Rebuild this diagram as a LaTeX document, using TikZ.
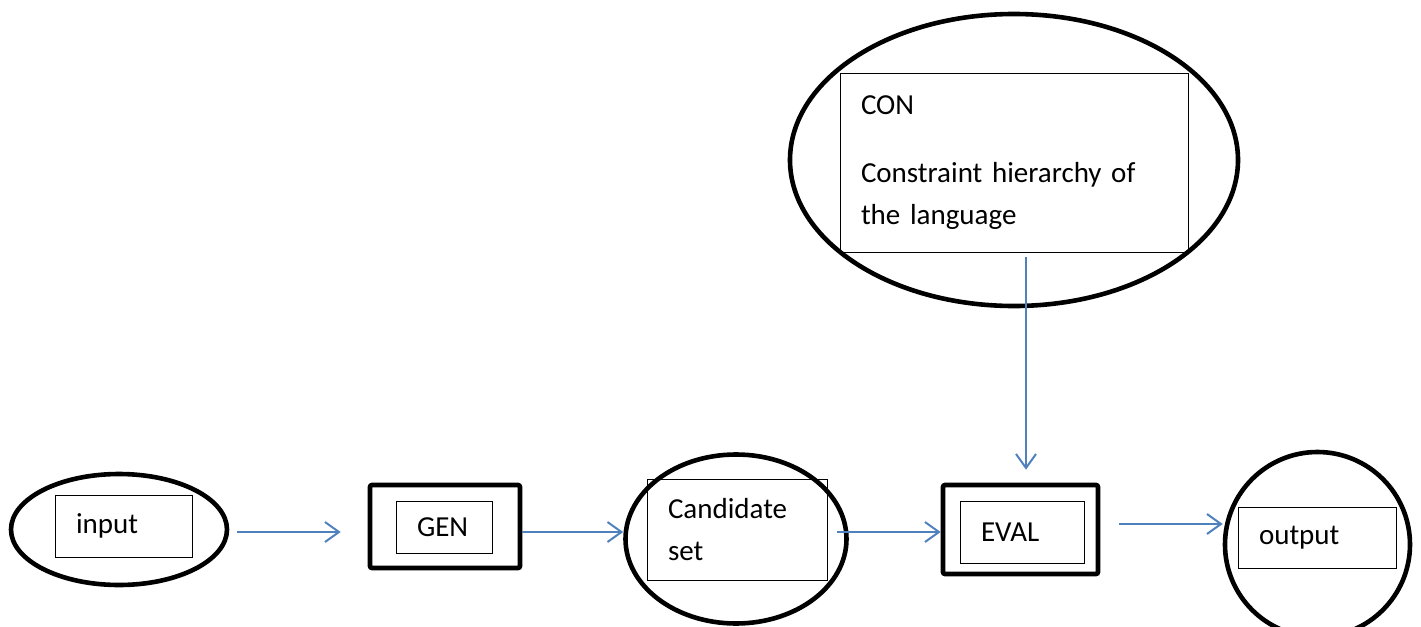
\documentclass[tikz,border=0pt]{standalone}
\usepackage{fontspec}
\setmainfont{Carlito}
\usetikzlibrary{arrows.meta,shapes.geometric}
\definecolor{flowblue}{RGB}{79,129,189}

\begin{document}
\begin{tikzpicture}[x=0.5pt, y=-0.5pt,
    outline/.style={draw, line width=2.3pt},
    inbox/.style={draw, line width=0.5pt, inner sep=0pt, inner xsep=10.5pt, align=left, font=\fontsize{14.5}{21}\selectfont},
    flow/.style={draw=flowblue, line width=1pt, -{Straight Barb[length=7pt, width=10pt]}}]
    \useasboundingbox (0,0) rectangle (1421,627);
    % Input
    \node[outline, ellipse, minimum width=108pt, minimum height=55.5pt] (inEll) at (119,529.5) {};
    \node[inbox, text width=47.5pt, minimum height=31pt] (inBox) at (123.5,526) {input};
    % GEN
    \node[outline, rounded corners=1pt, minimum width=75pt, minimum height=41.5pt] (gen) at (445,526.5) {};
    \node[inbox, text width=27pt, minimum height=26pt] (genBox) at (444,527) {GEN};
    % Candidate set
    \node[outline, ellipse, minimum width=110.5pt, minimum height=84.5pt] (cand) at (736,539) {};
    \node[inbox, text width=69pt, minimum height=50.5pt] (candBox) at (737,529.5) {Candidate\\set};
    % EVAL
    \node[outline, rounded corners=1pt, minimum width=77.5pt, minimum height=44.5pt] (eval) at (1020.5,529.5) {};
    \node[inbox, text width=41pt, minimum height=31pt] (evalBox) at (1022,532) {EVAL};
    % Output
    \node[outline, ellipse, minimum width=92.5pt, minimum height=92.5pt] (out) at (1317.5,544.5) {};
    \node[inbox, text width=58pt, minimum height=30.5pt] (outBox) at (1317,537.5) {output};
    % CON
    \node[outline, ellipse, minimum width=224pt, minimum height=146pt] (con) at (1014,160) {};
    \node[inbox, text width=153pt, minimum height=89.5pt] (conBox) at (1014,162.5) {CON\\[13pt]Constraint hierarchy of\\the language};
    % Arrows
    \draw[flow, shorten <=4pt, shorten >=13.5pt] (inEll.east |- evalBox) -- (gen.west |- evalBox);
    \draw[flow] (gen.east |- evalBox) -- (cand.west |- evalBox);
    \draw[flow, shorten <=4.75pt] (candBox.east |- evalBox) -- (eval.west |- evalBox);
    \draw[flow, shorten <=9.5pt] ([yshift=2.75pt]eval.east) -- ([yshift=2.75pt]eval.east -| out.west);
    \draw[flow, shorten <=2.25pt, shorten >=6.5pt] ([xshift=6pt]conBox.south) -- ([xshift=6pt]conBox.south |- eval.north);
\end{tikzpicture}
\end{document}
